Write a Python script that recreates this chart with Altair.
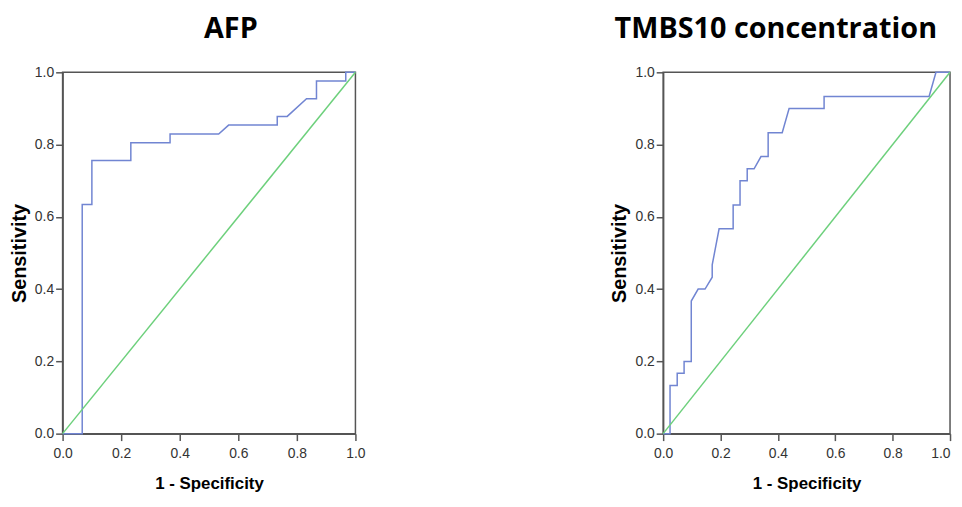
import altair as alt
import pandas as pd

# AFP ROC curve (1 - specificity, sensitivity)
afp_x = [0, 0.067, 0.067, 0.1, 0.1, 0.233, 0.233, 0.367, 0.367, 0.533, 0.567,
         0.733, 0.733, 0.767, 0.833, 0.867, 0.867, 0.967, 0.967, 1.0]
afp_y = [0, 0, 0.634, 0.634, 0.756, 0.756, 0.805, 0.805, 0.829, 0.829, 0.854,
         0.854, 0.878, 0.878, 0.927, 0.927, 0.976, 0.976, 1.0, 1.0]

# TMBS10 concentration ROC curve
tm_x = [0, 0.024, 0.024, 0.049, 0.049, 0.073, 0.073, 0.098, 0.098, 0.122, 0.146,
        0.171, 0.171, 0.195, 0.244, 0.244, 0.268, 0.268, 0.293, 0.293, 0.317,
        0.341, 0.366, 0.366, 0.415, 0.439, 0.561, 0.561, 0.927, 0.951, 1.0]
tm_y = [0, 0, 0.133, 0.133, 0.167, 0.167, 0.2, 0.2, 0.367, 0.4, 0.4,
        0.433, 0.467, 0.567, 0.567, 0.633, 0.633, 0.7, 0.7, 0.733, 0.733,
        0.767, 0.767, 0.833, 0.833, 0.9, 0.9, 0.933, 0.933, 1.0, 1.0]

diag_x = [0, 1]
diag_y = [0, 1]

ticks = [0, 0.2, 0.4, 0.6, 0.8, 1.0]

BLUE = "#7185d2"
GREEN = "#6dd07c"


def panel(xs, ys, title, dx, w, last_right):
    df = pd.DataFrame({"x": xs, "y": ys, "i": list(range(len(xs)))})
    diag = pd.DataFrame({"x": diag_x, "y": diag_y})
    xaxis_kw = dict(values=ticks, format=".1f", title="1 - Specificity")
    if last_right:
        xaxis_kw["labelAlign"] = {"condition": {"test": "datum.value >= 1", "value": "right"},
                                  "value": "center"}
    xenc = alt.X("x:Q", scale=alt.Scale(domain=[0, 1], nice=False),
                 axis=alt.Axis(**xaxis_kw))
    yenc = alt.Y("y:Q", scale=alt.Scale(domain=[0, 1], nice=False),
                 axis=alt.Axis(values=ticks, format=".1f", title="Sensitivity"))
    ref = alt.Chart(diag).mark_line(color=GREEN, strokeWidth=1.5).encode(x=xenc, y=yenc)
    roc = alt.Chart(df).mark_line(color=BLUE, strokeWidth=1.5).encode(
        x=xenc, y=yenc, order="i:Q")
    return alt.layer(roc, ref).properties(
        width=w, height=364,
        title=alt.TitleParams(title, dx=dx, anchor="middle", font="Open Sans",
                              fontSize=29, fontWeight="bold", color="#000",
                              offset=22),
    )


left = panel(afp_x, afp_y, "AFP", 22, 295, False)
right = panel(tm_x, tm_y, "TMBS10 concentration", -31, 289, True)

chart = alt.hconcat(left, right, spacing=244).properties(
    padding={"left": 0, "top": 4, "right": 0, "bottom": 0}
).configure_axis(
    labelFont="Liberation Sans", labelFontSize=14, labelColor="#333",
    titleFont="Liberation Sans", titleFontWeight="bold",
    titleColor="#000", domainColor="#555", tickColor="#555", tickSize=7,
    domainWidth=1.5, tickWidth=1.5, grid=False, labelFlush=False,
).configure_axisX(
    titleFontSize=17, labelPadding=6, titlePadding=15,
).configure_axisY(
    titleFontSize=20, labelPadding=2, titlePadding=5,
).configure_view(stroke="#555", strokeWidth=1.5)

chart.save("out.html", embed_options={"renderer": "svg", "actions": False})
